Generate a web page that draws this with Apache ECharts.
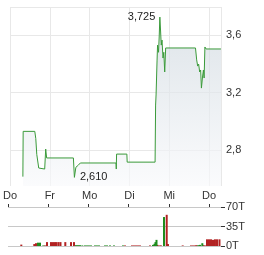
<!DOCTYPE html>
<html><head><meta charset="utf-8">
<script src="https://cdn.jsdelivr.net/npm/echarts@6/dist/echarts.min.js"></script>
<style>html,body{margin:0;padding:0;background:#fff}#c{width:264px;height:255px}</style>
</head><body><div id="c"></div>
<script>
// x positions are in trading-day units (0 = first "Do")
const dayLabels = ['Do', 'Fr', 'Mo', 'Di', 'Mi', 'Do'];
const priceTimes = [0.323, 0.330, 0.622, 0.647, 0.672, 0.721, 0.750, 0.871, 0.896, 0.920,
  1.592, 1.617, 1.654, 1.716, 1.766, 2.662, 2.669, 2.677, 2.935, 2.943,
  3.644, 3.657, 3.669, 3.694, 3.706, 3.731, 3.749, 3.764, 3.781, 3.799,
  3.818, 3.843, 3.863, 3.886, 3.910, 4.659, 4.689, 4.714, 4.739, 4.764,
  4.789, 4.808, 4.838, 4.858, 4.876, 4.896, 4.925, 5.299];
const prices = [2.615, 2.93, 2.93, 2.88, 2.77, 2.675, 2.668, 2.668, 2.807, 2.745,
  2.745, 2.61, 2.68, 2.695, 2.71, 2.71, 2.668, 2.772, 2.772, 2.716,
  2.716, 3.113, 3.183, 3.426, 3.53, 3.48, 3.60, 3.725, 3.635, 3.53,
  3.565, 3.44, 3.48, 3.343, 3.51, 3.51, 3.427, 3.384, 3.398, 3.343,
  3.357, 3.231, 3.315, 3.357, 3.301, 3.517, 3.503, 3.503];
const redTimes = [0.331, 0.654, 0.697, 0.921, 0.970, 1.070, 1.120, 1.169, 1.207, 1.257,
  1.306, 1.426, 1.568, 1.642, 2.911, 3.085, 3.135, 3.185, 3.235, 3.284,
  3.533, 3.720, 3.770, 3.807, 3.949, 3.981, 4.347, 4.553, 4.603, 4.653,
  4.690, 4.860, 4.902, 4.951, 5.001, 5.051, 5.101, 5.150, 5.200, 5.262];
const redVolumes = [2.5, 3.5, 5, 1, 7, 7, 7, 7, 7, 7,
  7, 7, 7, 7, 1, 1, 1, 1, 1, 1,
  1, 2, 1, 1, 56, 3.5, 1, 1, 1, 1,
  1.5, 1.5, 1, 12, 12, 12, 11, 12, 12, 12];
const greenTimes = [0.746, 0.796, 0.878, 1.692, 1.742, 1.791, 1.849, 1.916, 1.966, 2.015,
  2.065, 2.165, 2.214, 2.264, 2.414, 2.463, 2.538, 2.637, 2.861, 3.608,
  3.645, 3.670, 3.695, 3.882, 4.735, 4.777, 4.835];
const greenVolumes = [6, 6, 1, 1.5, 1.5, 1.5, 1, 1, 1, 1,
  1, 1, 1, 1, 1, 1, 1, 1, 1, 2,
  4, 7, 11, 52, 1.5, 2, 5];
const priceTicks = [2.8, 3.2, 3.6];
const volumeTicks = [0, 35, 70];

const font = 'Liberation Sans, Arial, sans-serif';
const zip = (a, b) => a.map((v, i) => [v, b[i]]);
const hiddenLine = {show: true, onZero: false, lineStyle: {color: 'rgba(0,0,0,0)'}};
const chart = echarts.init(document.getElementById('c'), null, {renderer: 'canvas'});
chart.setOption({
  animation: false,
  textStyle: {fontFamily: font},
  grid: [
    {left: 8, top: 7, width: 213, height: 179},
    {left: 8, top: 207, width: 213, height: 39}
  ],
  xAxis: [
    {type: 'value', gridIndex: 0, min: 0, max: 5.3, interval: 1,
     axisLine: {show: false}, axisTick: {show: false},
     splitLine: {show: true, lineStyle: {color: '#e8e8e8', width: 1}},
     axisLabel: {margin: 4, color: '#333', fontSize: 11, fontFamily: font, showMaxLabel: false,
       formatter: v => Number.isInteger(v) && dayLabels[v] ? dayLabels[v] : ''}},
    {type: 'value', gridIndex: 1, min: 0, max: 5.3, interval: 1, position: 'top',
     axisLine: hiddenLine,
     axisTick: {show: true, length: 3, customValues: [0, 1, 2, 3, 4, 5], lineStyle: {color: '#333'}},
     axisLabel: {show: false}, splitLine: {show: false}}
  ],
  yAxis: [
    {type: 'value', gridIndex: 0, position: 'right', min: 2.55, max: 3.795,
     axisLine: {show: false},
     axisTick: {show: false, customValues: priceTicks.concat([3.795])},
     splitLine: {show: true, lineStyle: {color: '#e8e8e8', width: 1}},
     axisLabel: {customValues: priceTicks, margin: 5, color: '#333', fontSize: 11, fontFamily: font,
       formatter: v => v.toFixed(1).replace('.', ',')}},
    {type: 'value', gridIndex: 1, position: 'right', min: 0, max: 70, interval: 35,
     axisLine: hiddenLine,
     axisTick: {show: true, length: 4, lineStyle: {color: '#333'}},
     splitLine: {show: true, lineStyle: {color: '#c8c8c8', width: 1}},
     axisLabel: {margin: 5, color: '#333', fontSize: 11, fontFamily: font,
       formatter: v => v + 'T'}}
  ],
  series: [
    {type: 'line', xAxisIndex: 0, yAxisIndex: 0, data: zip(priceTimes, prices),
     showSymbol: false, symbol: 'none',
     lineStyle: {color: '#3a9a3a', width: 1},
     areaStyle: {color: new echarts.graphic.LinearGradient(0, 0, 0, 1, [
       {offset: 0, color: '#cfd8df'}, {offset: 1, color: '#f8f9fb'}])},
     markPoint: {
       symbol: 'circle', symbolSize: 1, itemStyle: {color: 'rgba(0,0,0,0)'},
       label: {show: true, color: '#222', fontSize: 11, fontFamily: font,
         formatter: p => p.value.toFixed(3).replace('.', ',')},
       data: [
         {type: 'max', label: {position: 'left', distance: 4}},
         {type: 'min', label: {position: 'right', distance: 5}}
       ]
     }},
    {type: 'bar', xAxisIndex: 1, yAxisIndex: 1, data: zip(redTimes, redVolumes),
     barWidth: 2, barGap: '-100%', itemStyle: {color: '#b22222'}},
    {type: 'bar', xAxisIndex: 1, yAxisIndex: 1, data: zip(greenTimes, greenVolumes),
     barWidth: 2, barGap: '-100%', itemStyle: {color: '#1e8c1e'}}
  ]
});
</script>
</body></html>
